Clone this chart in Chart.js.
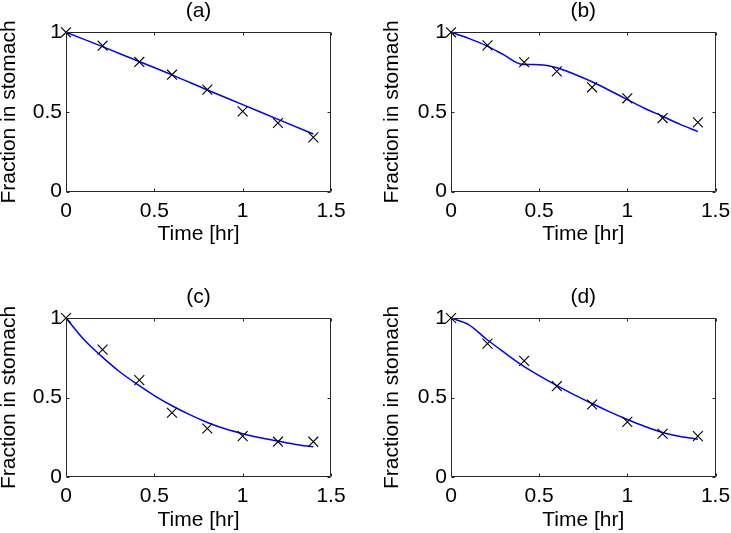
<!DOCTYPE html>
<html>
<head>
<meta charset="utf-8">
<script src="https://cdn.jsdelivr.net/npm/chart.js@4.4.0/dist/chart.umd.min.js"></script>
<style>
html, body { margin: 0; padding: 0; background: #fff; }
#wrap { position: relative; width: 731px; height: 533px; overflow: hidden; background: #fff; }
#wrap canvas { position: absolute; }
</style>
</head>
<body>
<div id="wrap">
  <canvas id="c0"></canvas>
  <canvas id="c1"></canvas>
  <canvas id="c2"></canvas>
  <canvas id="c3"></canvas>
</div>
<script>
// ---------------- data ----------------
const panelTitles = ['(a)', '(b)', '(c)', '(d)'];
const xAxisLabel = 'Time [hr]';
const yAxisLabel = 'Fraction in stomach';
const xTickValues = [0, 0.5, 1, 1.5];
const xTickLabels = ['0', '0.5', '1', '1.5'];
const yTickValues = [0, 0.5, 1];
const yTickLabels = ['0', '0.5', '1'];

// measured points (x markers)
const measTimes = [0, 0.207, 0.415, 0.6, 0.8, 1.0, 1.2, 1.4];
const measA = [1.0, 0.916, 0.814, 0.734, 0.640, 0.504, 0.431, 0.341];
const measB = [1.0, 0.918, 0.812, 0.755, 0.655, 0.586, 0.462, 0.435];
const measC = [1.0, 0.801, 0.609, 0.404, 0.305, 0.257, 0.222, 0.222];
const measD = [1.0, 0.839, 0.730, 0.571, 0.456, 0.347, 0.272, 0.257];

// model curves (blue lines)
const fitTimesA = [0, 0.2, 0.4, 0.6, 0.8, 1.0, 1.2, 1.4];
const fitA = [1.0, 0.913, 0.823, 0.733, 0.638, 0.546, 0.454, 0.362];
const fitTimes = [0, 0.1, 0.2, 0.3, 0.4, 0.5, 0.6, 0.7, 0.8, 0.9, 1.0, 1.1, 1.2, 1.3, 1.4];
const fitB = [1.0, 0.962, 0.916, 0.858, 0.800, 0.797, 0.778, 0.737, 0.690, 0.635, 0.578, 0.522, 0.473, 0.422, 0.377];
const fitC = [1.0, 0.866, 0.760, 0.665, 0.585, 0.512, 0.448, 0.392, 0.343, 0.303, 0.272, 0.247, 0.226, 0.205, 0.190];
const fitD = [1.0, 0.958, 0.868, 0.785, 0.705, 0.637, 0.575, 0.517, 0.462, 0.410, 0.362, 0.318, 0.280, 0.255, 0.238];

const panelsMeas = [measA, measB, measC, measD];
const panelsFitX = [fitTimesA, fitTimes, fitTimes, fitTimes];
const panelsFitY = [fitA, fitB, fitC, fitD];

// ---------------- layout (absolute page pixels) ----------------
const geom = [
  { canvas: [0, 0, 365, 266],   area: [66, 32.3, 331, 191.7],   titleY: 11,    yTitleX: 9.5, xTitleY: 234 },
  { canvas: [365, 0, 366, 266], area: [451, 32.3, 715.5, 191.7], titleY: 11,    yTitleX: 392, xTitleY: 234 },
  { canvas: [0, 266, 365, 267], area: [66, 318, 331, 477],      titleY: 297.5, yTitleX: 9.5, xTitleY: 520 },
  { canvas: [365, 266, 366, 267], area: [451, 318, 715.5, 477], titleY: 297.5, yTitleX: 392, xTitleY: 520 }
];

const FONT = "'Liberation Sans', Arial, Helvetica, sans-serif";
const FS = 21;

const framePlugin = {
  id: 'frame',
  afterDatasetsDraw(chart) {
    const { ctx, chartArea: a, scales: { x, y } } = chart;
    ctx.save();
    ctx.strokeStyle = '#262626';
    ctx.lineWidth = 1;
    const L = Math.round(a.left) + 0.5, R = Math.round(a.right) - 0.5;
    const T = Math.round(a.top) + 0.5, B = Math.round(a.bottom) - 0.5;
    ctx.beginPath();
    ctx.rect(L, T, R - L, B - T);
    const tl = 3;
    x.ticks.forEach(t => {
      const px = Math.round(x.getPixelForValue(t.value)) + 0.5;
      ctx.moveTo(px, B); ctx.lineTo(px, B - tl);
      ctx.moveTo(px, T); ctx.lineTo(px, T + tl);
    });
    y.ticks.forEach(t => {
      const py = Math.round(y.getPixelForValue(t.value)) + 0.5;
      ctx.moveTo(L, py); ctx.lineTo(L + tl, py);
      ctx.moveTo(R, py); ctx.lineTo(R - tl, py);
    });
    ctx.stroke();
    ctx.restore();
  }
};

geom.forEach((g, i) => {
  const [cx, cy, cw, ch] = g.canvas;
  const l = g.area[0] - cx, t = g.area[1] - cy, r = g.area[2] - cx, b = g.area[3] - cy;
  const yTitleLH = 0.9;
  const padLeft = (g.yTitleX - cx) - (FS * yTitleLH) / 2;
  const titleC = g.titleY - cy;
  const xTitleC = g.xTitleY - cy;

  const cv = document.getElementById('c' + i);
  cv.width = cw; cv.height = ch;
  cv.style.left = cx + 'px'; cv.style.top = cy + 'px';
  cv.style.width = cw + 'px'; cv.style.height = ch + 'px';

  const fitData = panelsFitX[i].map((xv, k) => ({ x: xv, y: panelsFitY[i][k] }));
  const measData = measTimes.map((xv, k) => ({ x: xv, y: panelsMeas[i][k] }));

  new Chart(cv, {
    type: 'scatter',
    data: {
      datasets: [
        {
          data: fitData, showLine: true, borderColor: '#0000ff', borderWidth: 1.5,
          pointRadius: 0, cubicInterpolationMode: 'monotone', fill: false, clip: false, order: 2
        },
        {
          data: measData, showLine: false, pointStyle: 'crossRot', pointRadius: 7,
          pointBorderColor: '#000', pointBorderWidth: 1.1, pointBackgroundColor: '#000', clip: false, order: 1
        }
      ]
    },
    options: {
      responsive: false,
      animation: false,
      events: [],
      devicePixelRatio: 1,
      layout: { autoPadding: false, padding: { left: padLeft, right: cw - r, top: 0, bottom: 0 } },
      plugins: {
        legend: { display: false },
        tooltip: { enabled: false },
        title: {
          display: true, text: panelTitles[i], color: '#000', fullSize: false,
          font: { family: FONT, size: FS, weight: 'normal', lineHeight: 1 },
          padding: { top: titleC - FS / 2, bottom: t - titleC - FS / 2 }
        }
      },
      scales: {
        x: {
          type: 'linear', min: 0, max: 1.5,
          afterBuildTicks: s => { s.ticks = xTickValues.map(v => ({ value: v })); },
          afterFit: s => { s.height = ch - b; },
          grid: { display: false, drawTicks: true, tickLength: 6.5 },
          border: { display: false },
          ticks: { padding: 0, color: '#000', maxRotation: 0, autoSkip: false,
                   callback: v => xTickLabels[xTickValues.indexOf(v)],
                   font: { family: FONT, size: FS, lineHeight: 1.2 } },
          title: {
            display: true, text: xAxisLabel, color: '#000',
            font: { family: FONT, size: FS, lineHeight: 1 },
            padding: { top: 0, bottom: ch - xTitleC - FS / 2 }
          }
        },
        y: {
          type: 'linear', min: 0, max: 1,
          afterBuildTicks: s => { s.ticks = yTickValues.map(v => ({ value: v })); },
          afterFit: s => { s.width = l - padLeft; },
          grid: { display: false, drawTicks: false },
          border: { display: false },
          ticks: { padding: 4, color: '#000', autoSkip: false,
                   callback: v => yTickLabels[yTickValues.indexOf(v)],
                   font: { family: FONT, size: FS, lineHeight: 1.2 } },
          title: {
            display: true, text: yAxisLabel, color: '#000',
            font: { family: FONT, size: FS, lineHeight: yTitleLH },
            padding: 0
          }
        }
      }
    },
    plugins: [framePlugin]
  });
});
</script>
</body>
</html>
